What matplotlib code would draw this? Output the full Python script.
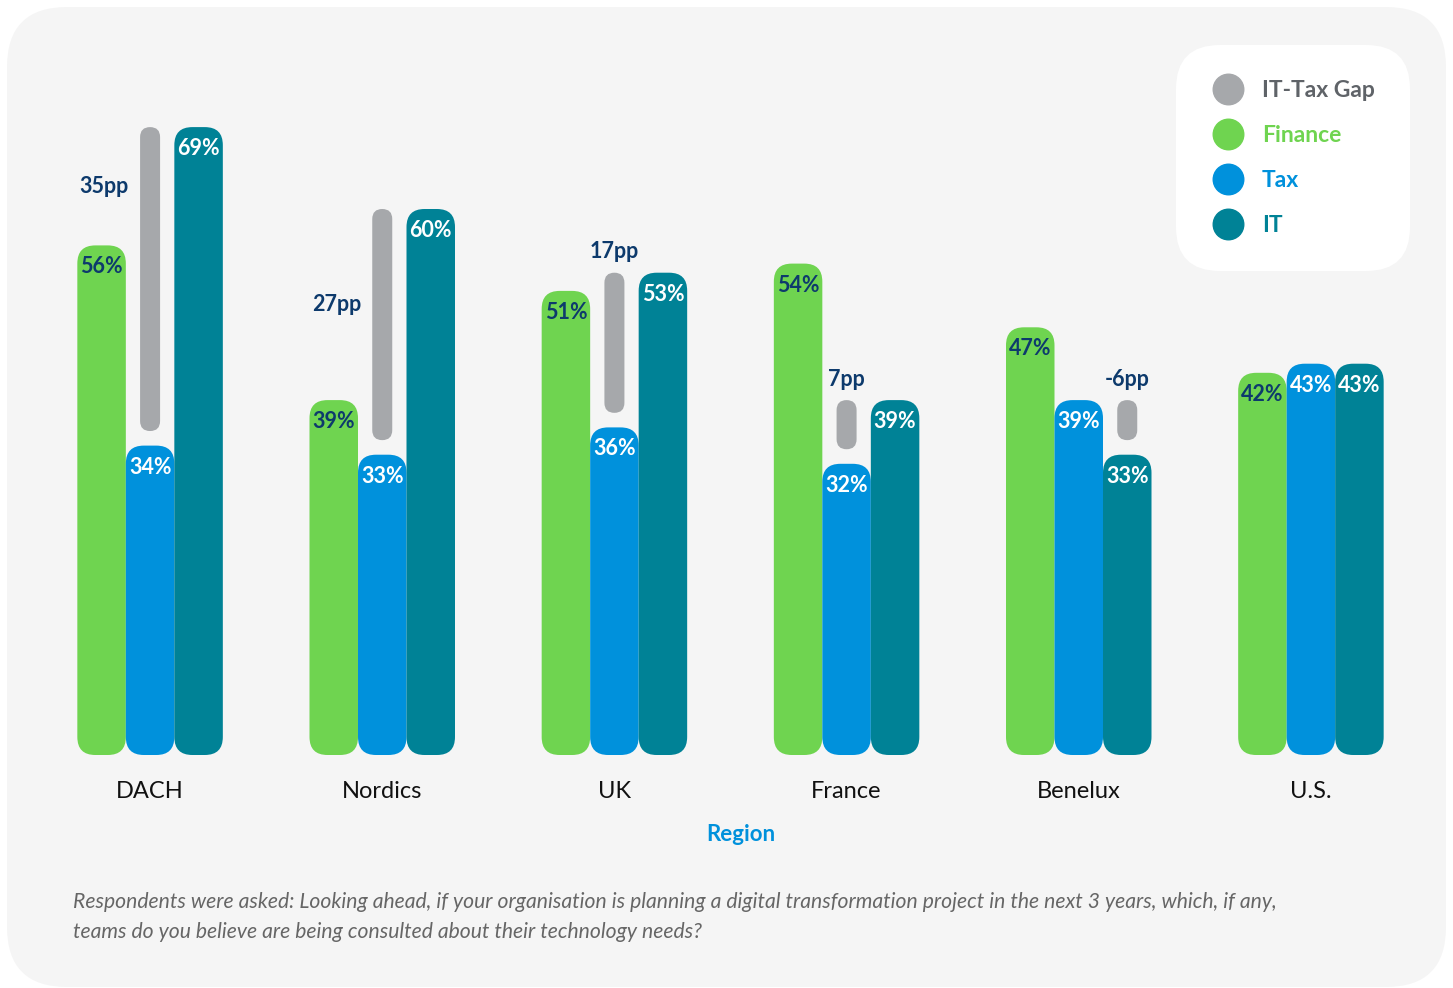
import matplotlib.pyplot as plt
from matplotlib.patches import FancyBboxPatch
from matplotlib.lines import Line2D

regions = ["DACH", "Nordics", "UK", "France", "Benelux", "U.S."]
finance = [56, 39, 51, 54, 47, 42]
tax = [34, 33, 36, 32, 39, 43]
it = [69, 60, 53, 39, 33, 43]
# where the "pp" gap label sits: beside the grey bar or above it
gap_label_side = ["left", "left", "top", "top", "top", None]

GREEN = "#6fd450"
BLUE = "#0091dc"
TEAL = "#008296"
GREY = "#a6a8ab"
NAVY = "#0d3a6c"
BG = "#f5f5f5"

footnote = ("Respondents were asked: Looking ahead, if your organisation is planning a digital "
            "transformation project in the next 3 years, which, if any,\n"
            "teams do you believe are being consulted about their technology needs?")

plt.rcParams['font.family'] = ['Lato', 'DejaVu Sans']

W, H = 1453, 988
fig = plt.figure(figsize=(W / 100, H / 100), dpi=100)
fig.patch.set_facecolor('white')

# background axes in pixel units, holds the rounded light grey panel
bg = fig.add_axes([0, 0, 1, 1], zorder=-1)
bg.set_xlim(0, W)
bg.set_ylim(0, H)
bg.axis('off')
bg.add_patch(FancyBboxPatch((7, 1), 1439, 980, boxstyle="round,pad=0,rounding_size=60",
                            facecolor=BG, edgecolor='none'))

ax_l, ax_b, ax_w, ax_h = 34, 755, 1393, 728
ax = fig.add_axes([ax_l / W, (H - ax_b) / H, ax_w / W, ax_h / H])
ax.set_xlim(-0.5, len(regions) - 0.5)
ax.set_ylim(0, 80)
ax.set_facecolor('none')
for s in ax.spines.values():
    s.set_visible(False)
ax.set_yticks([])

px_x = ax_w / len(regions)   # pixels per x unit
px_y = ax_h / 80             # pixels per y unit
aspect = px_x / px_y
bw = 48.5 / px_x             # bar width
gw = 20 / px_x               # gap bar width


def rbar(xc, width, y0, y1, color, radius_px):
    p = FancyBboxPatch((xc - width / 2, y0), width, y1 - y0,
                       boxstyle=f"round,pad=0,rounding_size={radius_px / px_x}",
                       mutation_aspect=aspect, facecolor=color, edgecolor='none', zorder=2)
    ax.add_patch(p)


for i, region in enumerate(regions):
    series = [(finance[i], GREEN, NAVY), (tax[i], BLUE, 'white'), (it[i], TEAL, 'white')]
    for j, (v, c, tc) in enumerate(series):
        x = i + (j - 1) * bw
        rbar(x, bw, 0, v, c, 18)
        ax.annotate(f"{v}%", (x, v), xytext=(0, -15.5), textcoords='offset points',
                    ha='center', va='center', fontsize=15.5, fontweight='bold', color=tc, zorder=3)

    gap = it[i] - tax[i]
    if gap == 0:
        continue
    lo, hi = min(tax[i], it[i]), max(tax[i], it[i])
    gx = i if it[i] >= tax[i] else i + bw
    rbar(gx, gw, lo + 1.6, hi, GREY, 10)
    if gap_label_side[i] == "left":
        ax.annotate(f"{gap}pp", (gx, (finance[i] + it[i]) / 2), xytext=(-33, 0),
                    textcoords='offset points', ha='center', va='center',
                    fontsize=15.5, fontweight='bold', color=NAVY)
    else:
        ax.annotate(f"{gap}pp", (gx, hi), xytext=(0, 15), textcoords='offset points',
                    ha='center', va='center', fontsize=15.5, fontweight='bold', color=NAVY)

ax.set_xticks(range(len(regions)), regions, fontsize=17, color='#111111')
ax.tick_params(axis='x', length=0, pad=18.5)
ax.set_xlabel("Region", fontsize=16, fontweight='bold', color=BLUE)
ax.xaxis.set_label_coords(0.5075, -0.095)

handles = [Line2D([], [], marker='o', linestyle='none', markersize=22,
                  markerfacecolor=c, markeredgecolor=c) for c in (GREY, GREEN, BLUE, TEAL)]
leg = ax.legend(handles, ["IT-Tax Gap", "Finance", "Tax", "IT"],
                loc='upper right', bbox_to_anchor=(1410 / W, (H - 45) / H),
                bbox_transform=fig.transFigure, frameon=True, facecolor='white',
                edgecolor='none', framealpha=1, prop={'size': 16.5, 'weight': 'bold'},
                borderpad=1.53, borderaxespad=0, handlelength=1.5, handletextpad=0.72,
                labelspacing=1.04)
leg.get_frame().set_boxstyle('round,pad=0,rounding_size=1.9')
for t, c in zip(leg.get_texts(), ('#5f6368', GREEN, BLUE, TEAL)):
    t.set_color(c)

fig.text(73 / W, 1 - 892 / H, footnote, ha='left', va='top', fontsize=15.2,
         style='italic', color='#666666', linespacing=1.6)

fig.savefig("out.png", dpi=100, facecolor=fig.get_facecolor())
